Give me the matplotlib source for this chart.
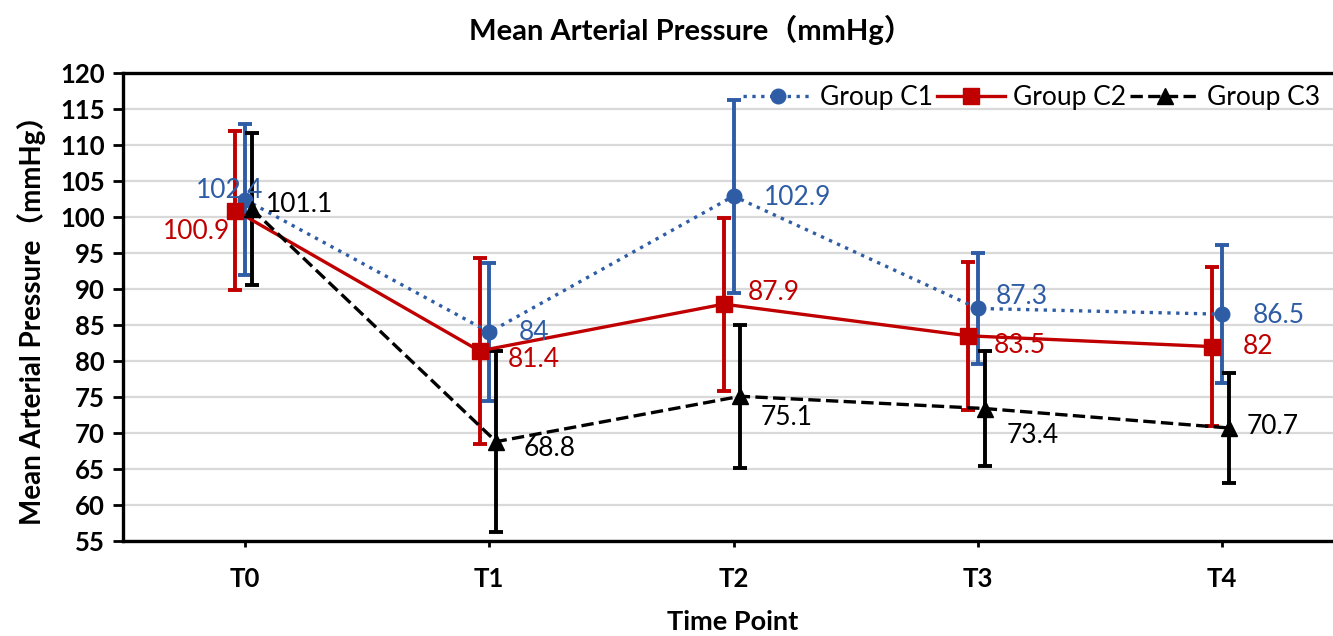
import matplotlib
matplotlib.use("Agg")
import matplotlib.pyplot as plt

categories = ['T0', 'T1', 'T2', 'T3', 'T4']
group_names = ['Group C1', 'Group C2', 'Group C3']
c1_mean = [102.4, 84, 102.9, 87.3, 86.5]
c1_sd = [10.5, 9.6, 13.4, 7.7, 9.6]
c2_mean = [100.9, 81.4, 87.9, 83.5, 82]
c2_sd = [11.1, 12.9, 12.0, 10.3, 11.0]
c3_mean = [101.1, 68.8, 75.1, 73.4, 70.7]
c3_sd = [10.6, 12.6, 9.9, 8.0, 7.7]
y_ticks = list(range(55, 121, 5))

FAM = ['Lato', 'Noto Sans CJK SC', 'DejaVu Sans']
plt.rcParams['font.family'] = FAM

W, H = 1333, 636
fig = plt.figure(figsize=(W / 100, H / 100), dpi=100)
ax = fig.add_axes([123 / W, 1 - 541 / H, 1221 / W, (541 - 73) / H])

blue = '#2E5DA6'
red = '#C00000'
black = '#000000'

styles = [
    dict(mean=c1_mean, sd=c1_sd, color=blue, ls=':', marker='o', ms=10.5, shift=0.0),
    dict(mean=c2_mean, sd=c2_sd, color=red, ls='-', marker='s', ms=12, shift=-0.04),
    dict(mean=c3_mean, sd=c3_sd, color=black, ls='--', marker='^', ms=11, shift=0.028),
]
# label offsets in pixels (dx, dy) for each series/point
label_offsets = [
    [(-15, 9), (45, 0), (64, -1), (44, 12), (57, -1)],
    [(-39, -21), (54, -9), (50, 12), (52, -10), (46, 0)],
    [(48, 5), (53, -7), (46, -21), (48, -27), (44, 1)],
]

xs_base = list(range(len(categories)))
handles = []
for s, name, offs in zip(styles, group_names, label_offsets):
    xs = [x + s['shift'] for x in xs_base]
    ax.errorbar(xs, s['mean'], yerr=s['sd'], fmt='none', ecolor=s['color'],
                elinewidth=2.8, capsize=5, capthick=2.8, zorder=3)
    ln, = ax.plot(xs, s['mean'], color=s['color'], ls=s['ls'], lw=2.4,
                  marker=s['marker'], ms=s['ms'], zorder=4)
    handles.append(ln)
    for x, v, (dx, dy) in zip(xs, s['mean'], offs):
        ax.annotate(f"{v:g}", (x, v), xytext=(dx, dy), textcoords='offset pixels',
                    ha='center', va='center', fontsize=19, color=s['color'], zorder=5)

ax.set_xlim(-0.5, 4.5)
ax.set_ylim(55, 120)
ax.set_yticks(y_ticks)
ax.set_xticks(xs_base)
ax.set_xticklabels(categories)
ax.yaxis.grid(True, color='#D9D9D9', lw=1.6)
ax.set_axisbelow(True)
for side in ['left', 'bottom', 'top']:
    ax.spines[side].set_linewidth(2.4)
    ax.spines[side].set_color('black')
ax.spines['right'].set_visible(False)
ax.tick_params(axis='y', length=7, width=2, pad=6, labelsize=18.5)
ax.tick_params(axis='x', length=4, width=2, pad=15, labelsize=18.5)
for lab in ax.get_xticklabels() + ax.get_yticklabels():
    lab.set_fontweight('bold')

fig.text(691 / W, 1 - 30 / H, 'Mean Arterial Pressure（mmHg）', ha='center', va='center',
         fontsize=21, fontweight='bold', family=FAM)
fig.text(733 / W, 1 - 622 / H, 'Time Point', ha='center', va='center',
         fontsize=19.5, fontweight='bold', family=FAM)
fig.text(32 / W, 1 - 313 / H, 'Mean Arterial Pressure（mmHg）', ha='center', va='center',
         rotation=90, fontsize=20, fontweight='bold', family=FAM)

fig.legend(handles, group_names, loc='center right', bbox_to_anchor=(1320 / W, 1 - 98 / H),
           ncol=3, frameon=False, fontsize=19, handlelength=2.6, handletextpad=0.3,
           columnspacing=0.15, borderaxespad=0, borderpad=0)

fig.savefig('out.png', dpi=100)
